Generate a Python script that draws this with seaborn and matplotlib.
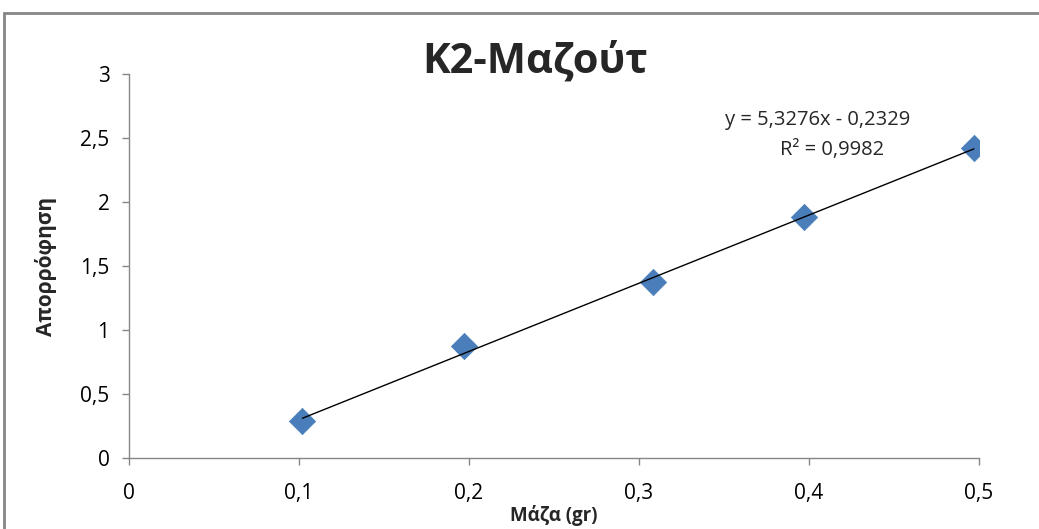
import matplotlib
matplotlib.use("Agg")
import matplotlib.pyplot as plt
import matplotlib.ticker as mticker
from matplotlib.patches import Rectangle
import seaborn as sns
import numpy as np
import pandas as pd

# Data
mass = [0.102, 0.197, 0.308, 0.397, 0.497]
absorbance = [0.29, 0.875, 1.375, 1.88, 2.42]
slope = 5.3276
intercept = -0.2329
r2 = 0.9982
title = "K2-Μαζούτ"
xlabel = "Μάζα (gr)"
ylabel = "Απορρόφηση"
xticks = [0, 0.1, 0.2, 0.3, 0.4, 0.5]
yticks = [0, 0.5, 1, 1.5, 2, 2.5, 3]

sns.set_style("white")
plt.rcParams['font.family'] = ['Open Sans', 'DejaVu Sans']

fig = plt.figure(figsize=(10.39, 5.29), dpi=100)
ax = fig.add_axes([129/1039, 1-458/529, (979-129)/1039, (458-74)/529])

df = pd.DataFrame({"x": mass, "y": absorbance})
xs = np.array([min(mass), max(mass)])
ax.plot(xs, slope*xs + intercept, color="black", lw=1.0, zorder=3)
sns.scatterplot(data=df, x="x", y="y", marker="D", s=180, color="#4A7EBB",
                edgecolor="#4A7EBB", linewidth=0.5, ax=ax, zorder=2)

ax.set_xlim(0, 0.5)
ax.set_ylim(0, 3)
ax.set_xticks(xticks)
ax.set_yticks(yticks)
fmt = mticker.FuncFormatter(lambda v, p: ("%g" % v).replace(".", ","))
ax.xaxis.set_major_formatter(fmt)
ax.yaxis.set_major_formatter(fmt)

for s in ["top", "right"]:
    ax.spines[s].set_visible(False)
for s in ["left", "bottom"]:
    ax.spines[s].set_color("#868686")
    ax.spines[s].set_linewidth(1.0)
ax.tick_params(axis="both", which="major", direction="out", length=5, width=1,
               color="#868686", labelsize=15, labelcolor="#000000",
               bottom=True, left=True)
ax.tick_params(axis="x", pad=13)
ax.tick_params(axis="y", pad=9)

ax.set_xlabel(xlabel, fontsize=13.5, fontweight="bold", labelpad=0)
ax.set_ylabel(ylabel, fontsize=15, fontweight="bold", labelpad=0)
ax.xaxis.set_label_coords(0.5, -0.122)
ax.yaxis.set_label_coords(-(129-57)/850, 0.5)

fig.text(535/1039, 1-62/529, title, ha="center", va="center", fontsize=30, fontweight="bold")
fig.text(818/1039, 1-120/529, "y = 5,3276x - 0,2329", ha="center", va="center", fontsize=14.5)
fig.text(832/1039, 1-150/529, "R² = 0,9982", ha="center", va="center", fontsize=14.5)

fig.patches.append(Rectangle((4/1039, -0.1), 1.2, 1-13/529+0.1, transform=fig.transFigure,
                             fill=False, edgecolor="#868686", lw=2.0))

fig.savefig("out.png", dpi=100)
